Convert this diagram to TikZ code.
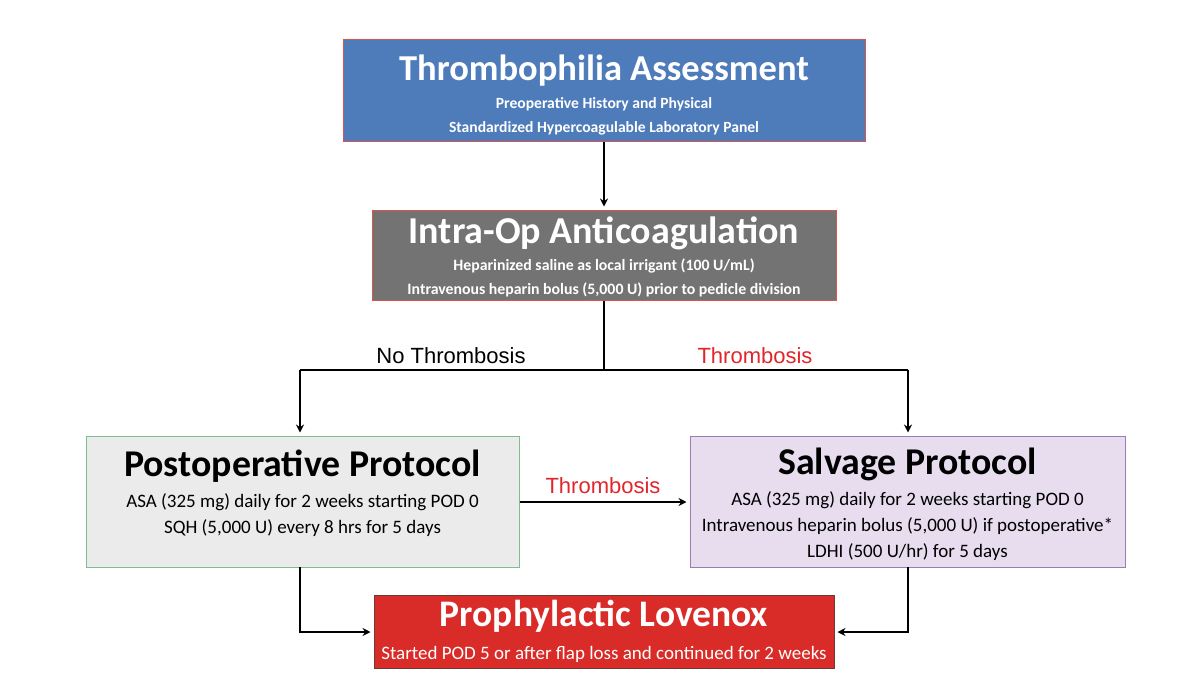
\documentclass[tikz,border=0pt]{standalone}
\usepackage{fontspec}
\setmainfont{Carlito}
\newfontfamily\arialf{Liberation Sans}
\usetikzlibrary{arrows.meta}
\definecolor{bluebox}{HTML}{4E7BBA}
\definecolor{graybox}{HTML}{737373}
\definecolor{postfill}{HTML}{EBEBEB}
\definecolor{postdraw}{HTML}{7DBE8E}
\definecolor{salvfill}{HTML}{E7DDEF}
\definecolor{salvdraw}{HTML}{9A7DB6}
\definecolor{redbox}{HTML}{D92B27}
\definecolor{redboxline}{HTML}{6E3A36}
\definecolor{redline}{HTML}{D9534F}
\definecolor{redtext}{HTML}{E0252B}
\tikzset{
  box/.style={rectangle, inner sep=0pt, line width=1pt},
  txt/.style={anchor=base, inner sep=0pt, align=center},
  conn/.style={line width=2pt, shorten >=3pt, -{Stealth[length=8pt,width=8pt]}},
  plain/.style={line width=2pt},
  lbl/.style={anchor=base, inner sep=0pt, font=\arialf\fontsize{22}{22}\selectfont}
}
\newcommand{\fs}[1]{\fontsize{#1}{#1}\selectfont}
\begin{document}
\begin{tikzpicture}[x=1pt,y=-1pt]
\useasboundingbox (0,0) rectangle (1204,686);
% boxes
\node[box, draw=redline, fill=bluebox, minimum width=522pt, minimum height=102pt] (b1) at (604,90) {};
\node[box, draw=redline, fill=graybox, minimum width=464pt, minimum height=90pt] (b2) at (604,255) {};
\node[box, draw=postdraw, fill=postfill, minimum width=433pt, minimum height=131pt] (b3) at (302.5,501.5) {};
\node[box, draw=salvdraw, fill=salvfill, minimum width=435pt, minimum height=131pt] (b4) at (907.5,501.5) {};
\node[box, draw=redboxline, fill=redbox, minimum width=460pt, minimum height=73pt] (b5) at (604,631.5) {};
% texts box1
\node[txt, text=white, font=\bfseries\fs{36.5}] (t1) at (604,80) {Thrombophilia Assessment};
\node[txt, text=white, font=\bfseries\fs{15.6}] (t1a) at (604,108) {Preoperative History and Physical};
\node[txt, text=white, font=\bfseries\fs{15.6}] (t1b) at (604,132) {Standardized Hypercoagulable Laboratory Panel};
% box2
\node[txt, text=white, font=\bfseries\fs{38}] (t2) at (604,243) {Intra-Op Anticoagulation};
\node[txt, text=white, font=\bfseries\fs{15.8}] (t2a) at (604,270) {Heparinized saline as local irrigant (100 U/mL)};
\node[txt, text=white, font=\bfseries\fs{15.8}] (t2b) at (604,294) {Intravenous heparin bolus (5,000 U) prior to pedicle division};
% box3
\node[txt, text=black, font=\bfseries\fs{37.8}] (t3) at (302.5,476) {Postoperative Protocol};
\node[txt, text=black, font=\fs{19}] (t3a) at (302.5,507) {ASA (325 mg) daily for 2 weeks starting POD 0};
\node[txt, text=black, font=\fs{19}] (t3b) at (302.5,533) {SQH (5,000 U) every 8 hrs for 5 days};
% box4
\node[txt, text=black, font=\bfseries\fs{37.8}] (t4) at (907.5,474) {Salvage Protocol};
\node[txt, text=black, font=\fs{19}] (t4a) at (907.5,505) {ASA (325 mg) daily for 2 weeks starting POD 0};
\node[txt, text=black, font=\fs{19}] (t4b) at (907.5,531) {Intravenous heparin bolus (5,000 U) if postoperative*};
\node[txt, text=black, font=\fs{19}] (t4c) at (907.5,557) {LDHI (500 U/hr) for 5 days};
% box5
\node[txt, text=white, font=\bfseries\fs{37.5}] (t5) at (604,626) {Prophylactic Lovenox};
\node[txt, text=white, font=\fs{19}] (t5a) at (604,659) {Started POD 5 or after flap loss and continued for 2 weeks};
% connectors
\coordinate (split) at (604,370);
\coordinate (sl) at (300,370);
\coordinate (sr) at (908,370);
\draw[conn] (b1.south) -- (b2.north);
\draw[plain] (b2.south) -- (split);
\draw[plain] (sl) -- (sr);
\draw[conn] (sl) -- (sl |- b3.north);
\draw[conn] (sr) -- (sr |- b4.north);
\draw[conn] (b3.east |- 0,502) -- (b4.west |- 0,502);
\coordinate (pl) at (300,567);
\coordinate (pr) at (908,567);
\draw[conn] (pl) -- (300,632) -- (b5.west |- 0,632);
\draw[conn] (pr) -- (908,632) -- (b5.east |- 0,632);
% labels
\node[lbl, text=black] (l1) at (451,363) {No Thrombosis};
\node[lbl, text=redtext] (l2) at (755,363) {Thrombosis};
\node[lbl, text=redtext] (l3) at (603,493) {Thrombosis};
\end{tikzpicture}
\end{document}
